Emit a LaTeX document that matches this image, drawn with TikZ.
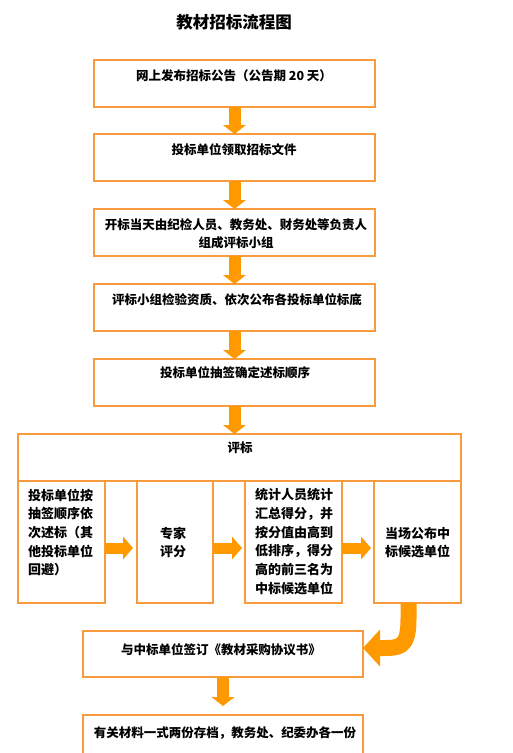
\documentclass[tikz,border=0pt]{standalone}
\usepackage{fontspec}
\setmainfont{Noto Sans CJK SC}
\usetikzlibrary{arrows.meta,calc}
\definecolor{boxc}{RGB}{247,155,60}
\definecolor{arrc}{RGB}{255,153,0}
\begin{document}
\begin{tikzpicture}[x=1pt,y=-1pt,
  box/.style={draw=boxc, line width=1.5pt, fill=white, inner sep=0pt, outer sep=0pt},
  txt/.style={font=\bfseries\fontsize{12.5}{18}\selectfont, inner sep=0pt, align=center},
  itxt/.style={font=\bfseries\fontsize{13}{18.7}\selectfont, inner sep=0pt, align=left, anchor=west},
  vbar/.style={draw=arrc, line width=12pt, -{Triangle[width=23pt,length=9pt,line width=0pt]}},
  hbar/.style={draw=arrc, line width=11pt, -{Triangle[width=23pt,length=10pt,line width=0pt]}},
  cbar/.style={draw=arrc, line width=16pt, -{Triangle[width=37pt,length=17pt,line width=0pt]}}
]
\useasboundingbox (0,0) rectangle (513,753);

\node[font=\bfseries\fontsize{16.5}{20}\selectfont, inner sep=0pt] (title) at (234,22) {教材招标流程图};

% main boxes
\node[box, minimum width=281pt, minimum height=47pt] (b1) at (234.5,83.5) {};
\node[box, minimum width=281pt, minimum height=47pt] (b2) at (234.5,157.5) {};
\node[box, minimum width=281pt, minimum height=47pt] (b3) at (234.5,232.5) {};
\node[box, minimum width=281pt, minimum height=47pt] (b4) at (234.5,307.5) {};
\node[box, minimum width=281pt, minimum height=47pt] (b5) at (234.5,382.5) {};
\node[box, minimum width=443pt, minimum height=47pt] (hdr) at (239.5,457.5) {};
\node[box, minimum width=87pt, minimum height=122pt] (ia) at (61.5,542) {};
\node[box, minimum width=76pt, minimum height=122pt] (ib) at (175,542) {};
\node[box, minimum width=97pt, minimum height=122pt] (ic) at (293.5,542) {};
\node[box, minimum width=87pt, minimum height=122pt] (id) at (417.5,542) {};
\node[box, minimum width=280pt, minimum height=46pt] (b7) at (223,654) {};
\node[box, minimum width=280pt, minimum height=46pt] (b8) at (223,738) {};

% texts
\node[txt] (t1) at (234,76) {网上发布招标公告（公告期 20 天）};
\node[txt] (t2) at (234,150) {投标单位领取招标文件};
\node[txt] (t3) at (236,234) {开标当天由纪检人员、教务处、财务处等负责人\\组成评标小组};
\node[txt] (t4) at (237,300) {评标小组检验资质、依次公布各投标单位标底};
\node[txt] (t5) at (235,373) {投标单位抽签确定述标顺序};
\node[txt] (th) at (240,448) {评标};
\node[itxt] (ta) at (28,532.5) {投标单位按\\抽签顺序依\\次述标（其\\他投标单位\\回避）};
\node[itxt] (tb) at (160,542.5) {专家\\评分};
\node[itxt] (tc) at (255,541.5) {统计人员统计\\汇总得分，并\\按分值由高到\\低排序，得分\\高的前三名为\\中标候选单位};
\node[itxt] (td) at (385,542.5) {当场公布中\\标候选单位};
\node[txt] (t7) at (221,650) {与中标单位签订《教材采购协议书》};
\node[txt] (t8) at (225,733) {有关材料一式两份存档，教务处、纪委办各一份};

% arrows
\draw[vbar] (b1.south) -- (b2.north);
\draw[vbar] (b2.south) -- (b3.north);
\draw[vbar] (b3.south) -- (b4.north);
\draw[vbar] (b4.south) -- (b5.north);
\draw[vbar] (b5.south) -- (b5.south |- hdr.north);
\draw[hbar, shorten >=4pt] ([yshift=-6pt]ia.east) -- ([yshift=-6pt]ib.west);
\draw[hbar, shorten >=3pt] ([yshift=-6pt]ib.east) -- ([yshift=-6pt]ic.west);
\draw[hbar, shorten >=3pt] ([yshift=-6pt]ic.east) -- ([yshift=-6pt]id.west);
\coordinate (cs) at ([xshift=-9pt]id.south);
\coordinate (ce) at ([yshift=6pt]b7.east);
\draw[cbar] (cs) -- ++(0,16) .. controls +(0,30) and +(36,0) .. (ce);
\draw[vbar, shorten >=9pt] (b7.south) -- (b8.north);
\end{tikzpicture}
\end{document}
